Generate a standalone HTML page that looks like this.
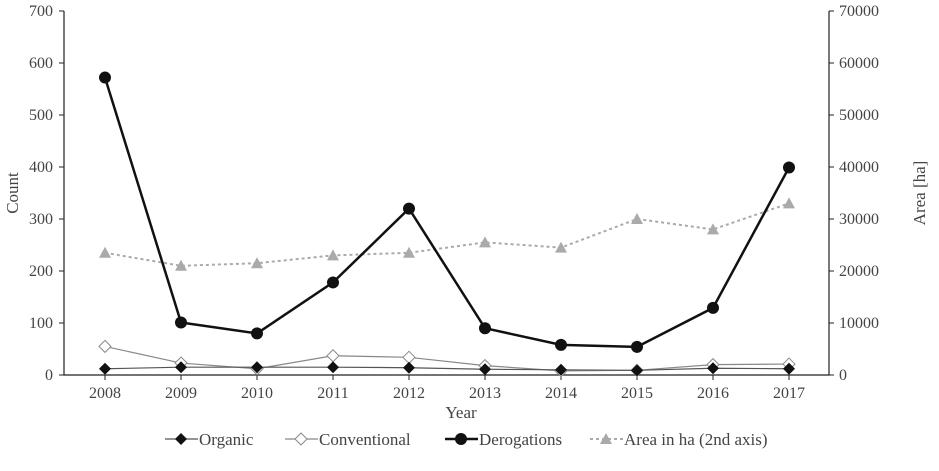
<!DOCTYPE html>
<html><head><meta charset="utf-8"><style>
body{margin:0;background:#fff;}
svg{display:block;font-family:"Liberation Serif",serif;}
</style></head><body>
<svg id="chart" width="939" height="471">
<g id="axes"></g><g id="series"></g><g id="legend"></g>
</svg>
<script>
const years=[2008,2009,2010,2011,2012,2013,2014,2015,2016,2017];
const organic=[12,15,15,15,14,11,10,9,13,12];
const conventional=[55,23,12,37,34,18,8,9,20,21];
const derogations=[572,101,80,178,320,90,58,54,129,399];
const area=[23500,21000,21500,23000,23500,25500,24500,30000,28000,33000];
const leftTicks=[0,100,200,300,400,500,600,700];
const rightTicks=[0,10000,20000,30000,40000,50000,60000,70000];

const NS="http://www.w3.org/2000/svg";
const L=64,R=829,T=11,B=375;
const x=i=>105+i*(789-105)/(years.length-1);
const yL=v=>B-v/700*(B-T);
const yR=v=>B-v/70000*(B-T);
function mk(tag,attrs,parent,text){const e=document.createElementNS(NS,tag);for(const k in attrs)e.setAttribute(k,attrs[k]);if(text!==undefined)e.textContent=text;parent.appendChild(e);return e;}
const ax=document.getElementById('axes'),se=document.getElementById('series'),lg=document.getElementById('legend');
let e;
e=mk('path',{d:`M${L},${T}V${B}H${R}V${T}`,fill:'none',stroke:'#222','stroke-width':1.2},ax);


leftTicks.forEach(v=>{mk('line',{x1:L-5,x2:L,y1:yL(v),y2:yL(v),stroke:'#222'},ax);
e=mk('text',{x:L-11,y:yL(v)+5,'text-anchor':'end','font-size':16,fill:'#444'},ax,v);

});
rightTicks.forEach(v=>{mk('line',{x1:R,x2:R+5,y1:yR(v),y2:yR(v),stroke:'#222'},ax);
e=mk('text',{x:R+10,y:yR(v)+5,'text-anchor':'start','font-size':16,fill:'#444'},ax,v);

});
years.forEach((yv,i)=>{mk('line',{x1:x(i),x2:x(i),y1:B,y2:B+5,stroke:'#222'},ax);
e=mk('text',{x:x(i),y:B+23,'text-anchor':'middle','font-size':16,fill:'#444'},ax,yv);

});
e=mk('text',{x:461,y:418,'text-anchor':'middle','font-size':17,fill:'#444'},ax,'Year');


e=mk('text',{x:18,y:193,'text-anchor':'middle','font-size':17,fill:'#444',transform:'rotate(-90 18 193)'},ax,'Count');


e=mk('text',{x:925,y:193,'text-anchor':'middle','font-size':17,fill:'#444',transform:'rotate(-90 925 193)'},ax,'Area [ha]');



function marker(kind,cx,cy,g){
 if(kind==='dia')return mk('path',{d:`M${cx},${cy-6}L${cx+6},${cy}L${cx},${cy+6}L${cx-6},${cy}Z`,fill:'#111'},g);
 if(kind==='odia')return mk('path',{d:`M${cx},${cy-6}L${cx+6},${cy}L${cx},${cy+6}L${cx-6},${cy}Z`,fill:'#fff',stroke:'#888'},g);
 if(kind==='circ')return mk('circle',{cx,cy,r:6,fill:'#111'},g);
 return mk('path',{d:`M${cx},${cy-6}L${cx+6},${cy+5}L${cx-6},${cy+5}Z`,fill:'#aaa'},g);
}
function series(name,vals,yf,stroke,w,dash,kind){
 const g=mk('g',{},se);
 const l=mk('polyline',{points:vals.map((v,i)=>x(i)+','+yf(v)).join(' '),fill:'none',stroke,'stroke-width':w,'stroke-dasharray':dash||'none'},g);
 
 
 vals.forEach((v,i)=>{const m=marker(kind,x(i),yf(v),g);
 
 });
}
series('area-series',area,yR,'#aaa',2,'3,3','tri');
series('conventional-series',conventional,yL,'#888',1.2,null,'odia');
series('organic-series',organic,yL,'#555',1.2,null,'dia');
series('derogations-series',derogations,yL,'#111',2.5,null,'circ');

const items=[['Organic','dia','#555',1.2,null,165],['Conventional','odia','#888',1.2,null,285],['Derogations','circ','#111',2.5,null,445],['Area in ha (2nd axis)','tri','#aaa',2,'3,3',590]];
items.forEach(([t,k,s,w,d,lx])=>{const g=mk('g',{},lg);
 
 
 mk('line',{x1:lx,x2:lx+33,y1:439,y2:439,stroke:s,'stroke-width':w,'stroke-dasharray':d||'none'},g);
 marker(k,lx+16,439,g);
 mk('text',{x:lx+34,y:445,'font-size':17,fill:'#444'},g,t);});
</script>
</body></html>
